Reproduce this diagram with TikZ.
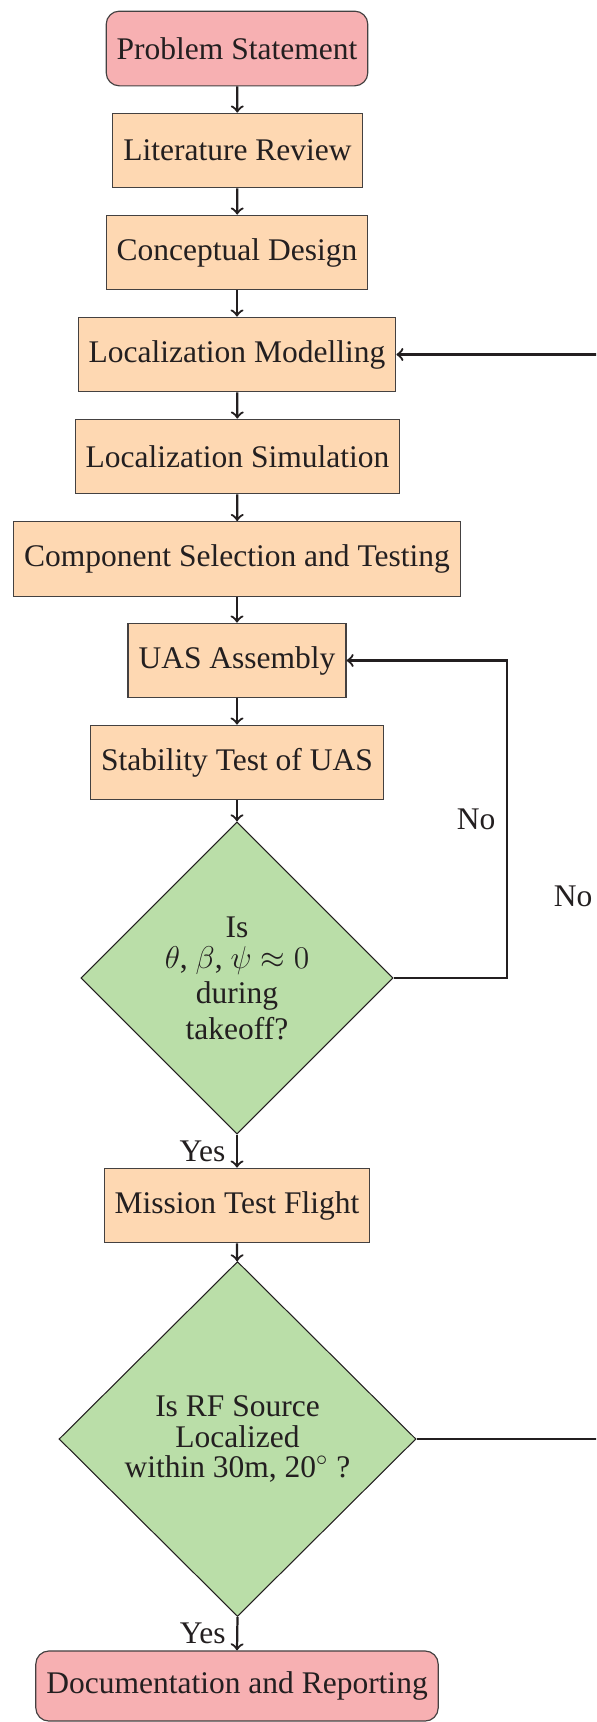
\documentclass[tikz,border=0pt]{standalone}
\usepackage{fontspec}
\setmainfont{Liberation Serif}
\usetikzlibrary{shapes.geometric}
\definecolor{pinkfill}{RGB}{247,176,178}
\definecolor{peach}{RGB}{254,216,178}
\definecolor{leaf}{RGB}{186,222,168}
\definecolor{ink}{RGB}{35,31,32}
\begin{document}
\begin{tikzpicture}[x=0.380952pt, y=-0.380952pt,
  every node/.style={font=\fontsize{12}{11.5}\selectfont, text=ink},
  proc/.style={rectangle, draw=ink!85, line width=0.45pt, fill=peach, minimum height=28.45pt, inner sep=4pt},
  term/.style={proc, fill=pinkfill, rounded corners=5pt},
  decide/.style={diamond, aspect=1, draw=ink, line width=0.4pt, fill=leaf, inner sep=0pt, align=center},
  arrow/.style={->, line width=0.85pt, draw=ink},
  lbl/.style={inner sep=4pt}
]
\useasboundingbox (0,0) rectangle (596,1722);
\clip (0,0) rectangle (596,1722);

\node[term] (ps)  at (237,48.5)  {Problem Statement};
\node[proc] (lr)  at (237.5,150.5) {Literature Review};
\node[proc] (cd)  at (237,252.5) {Conceptual Design};
\node[proc] (lm)  at (237,354.5) {Localization Modelling};
\node[proc] (ls)  at (237.5,456.5) {Localization Simulation};
\node[proc] (cst) at (237,559)   {Component Selection and Testing};
\node[proc] (uas) at (237,660.5) {UAS Assembly};
\node[proc] (stu) at (237,762.5) {Stability Test of UAS};
\node[decide, minimum width=118.9pt, minimum height=118.9pt] (d1) at (237,978)
  {Is\\[0.3pt]$\theta$, $\beta$, $\psi \approx 0$\\[1.8pt]during\\[2.2pt]takeoff?};
\node[proc] (mtf) at (237,1205.5) {Mission Test Flight};
\node[decide, minimum width=136pt, minimum height=135.2pt] (d2) at (237.5,1439)
  {Is RF Source\\Localized\\within 30m, 20$^\circ$ ?};
\node[term, minimum height=26.7pt] (doc) at (237,1686) {Documentation and Reporting};

\coordinate (r1) at (507,660.5);
\coordinate (r2) at (604,354.5);

\draw[arrow] (ps) -- (lr);
\draw[arrow] (lr) -- (cd);
\draw[arrow] (cd) -- (lm);
\draw[arrow] (lm) -- (ls);
\draw[arrow] (ls) -- (cst);
\draw[arrow] (cst) -- (uas);
\draw[arrow] (uas) -- (stu);
\draw[arrow] (stu) -- (d1);
\draw[arrow] (d1.south) -- node[left, lbl] {Yes} (mtf.north);
\draw[arrow] (mtf) -- (d2);
\draw[arrow] (d2.south) -- node[left, lbl] {Yes} (doc.north);
\draw[arrow] (d1.east) -| node[pos=0.75, left, lbl] {No} (r1) -- (uas.east);
\draw[arrow] (d2.east) -| node[pos=0.75, left, lbl] {No} (r2) -- (lm.east);
\end{tikzpicture}
\end{document}
